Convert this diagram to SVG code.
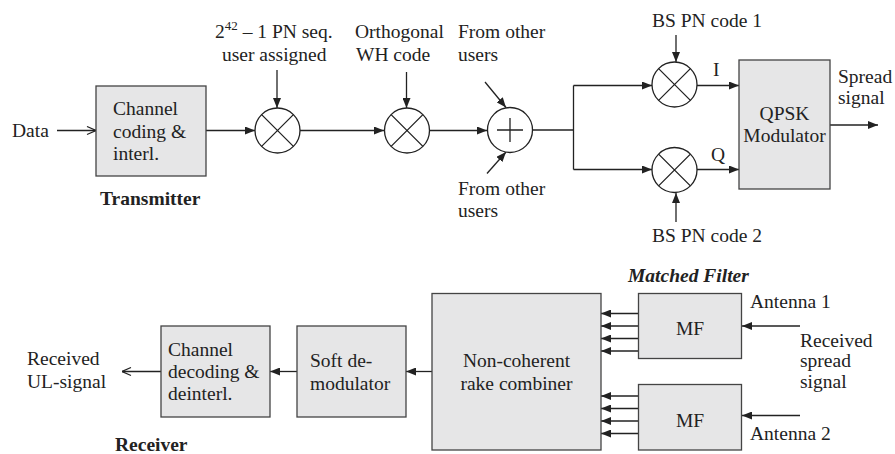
<svg xmlns="http://www.w3.org/2000/svg" width="895" height="454" viewBox="0 0 895 454">
<defs>
<marker id="fa" viewBox="0 0 10 8" refX="10" refY="4" markerWidth="10" markerHeight="8" markerUnits="userSpaceOnUse" orient="auto">
<path d="M0,0 L10,4 L0,8 Z" fill="#222"/>
</marker>
<marker id="oa" viewBox="0 0 10 10" refX="10" refY="5" markerWidth="10" markerHeight="10" markerUnits="userSpaceOnUse" orient="auto">
<path d="M1,1 L10,5 L1,9" fill="none" stroke="#222" stroke-width="1.2"/>
</marker>
</defs>
<style>
text{font-family:"Liberation Serif","Times New Roman",serif;font-size:19.5px;fill:#222}
.b{font-weight:bold}
.bi{font-weight:bold;font-style:italic}
.box{fill:#e6e6e7;stroke:#444;stroke-width:1.3}
.c{fill:#fff;stroke:#222;stroke-width:1.3}
.x{stroke:#222;stroke-width:1.3;fill:none}
.w{stroke:#222;stroke-width:1.3;fill:none}
.m{stroke:#222;stroke-width:1.3;fill:none;marker-end:url(#fa)}
.o{stroke:#222;stroke-width:1.3;fill:none;marker-end:url(#oa)}
.mid{text-anchor:middle}
</style>
<rect width="895" height="454" fill="#fff"/>

<g id="connectors">
<line class="o" x1="57" y1="130.5" x2="96" y2="130.5"/>
<line class="m" x1="206" y1="130.5" x2="255" y2="130.5"/>
<line class="m" x1="277" y1="70" x2="277" y2="108"/>
<line class="m" x1="300" y1="130.5" x2="384" y2="130.5"/>
<line class="m" x1="406.5" y1="72" x2="406.5" y2="108"/>
<line class="m" x1="429" y1="130.5" x2="487" y2="130.5"/>
<line class="m" x1="485" y1="82" x2="506" y2="107.5"/>
<line class="m" x1="487" y1="173.5" x2="506" y2="152"/>
<polyline class="w" points="532,130 573.5,130"/>
<line class="w" x1="573.5" y1="85.5" x2="573.5" y2="169.5"/>
<line class="m" x1="573.5" y1="85.5" x2="652" y2="85.5"/>
<line class="m" x1="573.5" y1="169.5" x2="652" y2="169.5"/>
<line class="m" x1="676" y1="35" x2="676" y2="62"/>
<line class="m" x1="676" y1="222" x2="676" y2="193"/>
<line class="m" x1="697" y1="85.5" x2="739" y2="85.5"/>
<line class="m" x1="697" y1="169.5" x2="739" y2="169.5"/>
<line class="m" x1="830" y1="125" x2="878" y2="125"/>

<line class="o" x1="161" y1="371.5" x2="122" y2="371.5"/>
<line class="m" x1="297" y1="371.5" x2="270" y2="371.5"/>
<line class="m" x1="432" y1="371.5" x2="406" y2="371.5"/>
<line class="m" x1="638.5" y1="313.5" x2="601" y2="313.5"/>
<line class="m" x1="638.5" y1="326" x2="601" y2="326"/>
<line class="m" x1="638.5" y1="338.5" x2="601" y2="338.5"/>
<line class="m" x1="638.5" y1="351" x2="601" y2="351"/>
<line class="m" x1="638.5" y1="396" x2="601" y2="396"/>
<line class="m" x1="638.5" y1="408.5" x2="601" y2="408.5"/>
<line class="m" x1="638.5" y1="421" x2="601" y2="421"/>
<line class="m" x1="638.5" y1="433.5" x2="601" y2="433.5"/>
<line class="m" x1="800" y1="326" x2="742" y2="326"/>
<line class="m" x1="800" y1="415.5" x2="742" y2="415.5"/>
</g>

<g id="data-label"><text x="12" y="137">Data</text></g>

<g id="channel-coding">
<rect class="box" x="96" y="86" width="110" height="90"/>
<text x="113" y="115">Channel</text>
<text x="113" y="137.5">coding &amp;</text>
<text x="113" y="160">interl.</text>
</g>
<g id="transmitter-label"><text class="b" x="100" y="205">Transmitter</text></g>

<g id="mult-pn">
<circle class="c" cx="277.5" cy="130.5" r="22.5"/>
<path class="x" d="M261.6,114.6 L293.4,146.4 M293.4,114.6 L261.6,146.4"/>
<text x="215" y="38">2<tspan dy="-8" font-size="13">42</tspan><tspan dy="8"> – 1 PN seq.</tspan></text>
<text x="222" y="61">user assigned</text>
</g>

<g id="mult-wh">
<circle class="c" cx="407" cy="130.5" r="22.5"/>
<path class="x" d="M391.1,114.6 L422.9,146.4 M422.9,114.6 L391.1,146.4"/>
<text x="355" y="38">Orthogonal</text>
<text x="356" y="61">WH code</text>
</g>

<g id="adder">
<circle class="c" cx="510" cy="130" r="22.5"/>
<path class="x" d="M497,130 L523,130 M510,118 L510,142"/>
<text x="458" y="38">From other</text>
<text x="458" y="61">users</text>
<text x="458" y="195">From other</text>
<text x="458" y="217">users</text>
</g>

<g id="mult-i">
<circle class="c" cx="674.5" cy="84.5" r="22.5"/>
<path class="x" d="M658.6,68.6 L690.4,100.4 M690.4,68.6 L658.6,100.4"/>
<text x="652" y="27">BS PN code 1</text>
<text x="713" y="76">I</text>
</g>

<g id="mult-q">
<circle class="c" cx="674.5" cy="170" r="22.5"/>
<path class="x" d="M658.6,154.1 L690.4,185.9 M690.4,154.1 L658.6,185.9"/>
<text x="652" y="242">BS PN code 2</text>
<text x="711" y="161">Q</text>
</g>

<g id="qpsk">
<rect class="box" x="739" y="60" width="91" height="129"/>
<text class="mid" x="784.5" y="119.5">QPSK</text>
<text class="mid" x="784.5" y="141.5">Modulator</text>
</g>
<g id="spread-label">
<text x="838" y="83">Spread</text>
<text x="838" y="104">signal</text>
</g>

<g id="received-ul">
<text x="27" y="365">Received</text>
<text x="27" y="387.5">UL-signal</text>
</g>

<g id="channel-decoding">
<rect class="box" x="161" y="326" width="109" height="91"/>
<text x="168" y="356">Channel</text>
<text x="168" y="378">decoding &amp;</text>
<text x="168" y="400">deinterl.</text>
</g>
<g id="receiver-label"><text class="b" x="115" y="451">Receiver</text></g>

<g id="soft-demod">
<rect class="box" x="297" y="326" width="109" height="91"/>
<text x="310" y="367">Soft de-</text>
<text x="310" y="389.5">modulator</text>
</g>

<g id="rake">
<rect class="box" x="432" y="293.5" width="169" height="156.5"/>
<text class="mid" x="516.5" y="367">Non-coherent</text>
<text class="mid" x="516.5" y="389.5">rake combiner</text>
</g>

<g id="mf1">
<rect class="box" x="638.5" y="293.5" width="103" height="65"/>
<text class="mid" x="690" y="335">MF</text>
</g>
<g id="mf2">
<rect class="box" x="638.5" y="384.5" width="103" height="65.5"/>
<text class="mid" x="690" y="427">MF</text>
</g>
<g id="matched-filter-label"><text class="bi" x="628" y="282">Matched Filter</text></g>
<g id="antenna-labels">
<text x="750" y="307.5">Antenna 1</text>
<text x="800" y="347">Received</text>
<text x="800" y="366.5">spread</text>
<text x="800" y="387.5">signal</text>
<text x="750" y="440">Antenna 2</text>
</g>
</svg>
